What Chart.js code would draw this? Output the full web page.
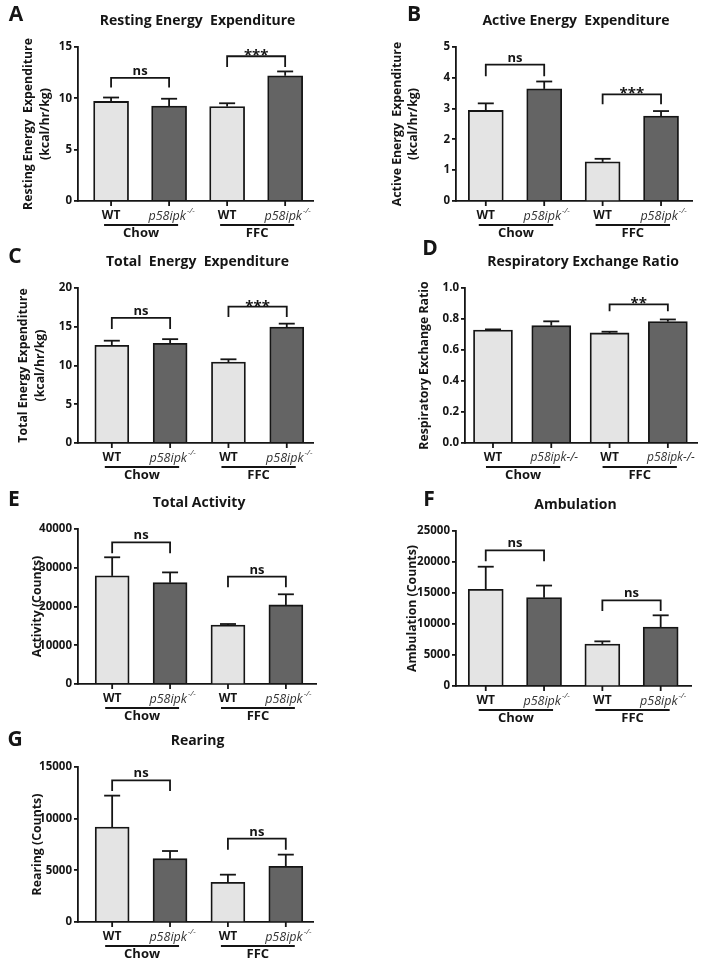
<!DOCTYPE html>
<html>
<head>
<meta charset="utf-8">
<script src="https://cdn.jsdelivr.net/npm/chart.js@4/dist/chart.umd.min.js"></script>
<style>
  body { margin: 0; background: #fff; }
  #fig { position: relative; width: 701px; height: 969px; }
  #fig canvas { position: absolute; }
</style>
</head>
<body>
<div id="fig"></div>
<script>
// bar order: WT Chow, p58ipk-/- Chow, WT FFC, p58ipk-/- FFC
const genotypes = ['WT', 'p58ipk', 'WT', 'p58ipk'];
const diets = ['Chow', 'FFC'];

const restingMean = [9.7, 9.25, 9.2, 12.2];
const restingSem = [0.38, 0.71, 0.32, 0.42];
const activeMean = [2.94, 3.64, 1.27, 2.76];
const activeSem = [0.23, 0.24, 0.1, 0.16];
const totalMean = [12.6, 12.87, 10.45, 14.95];
const totalSem = [0.6, 0.53, 0.35, 0.45];
const rerMean = [0.729, 0.757, 0.71, 0.783];
const rerSem = [0.004, 0.028, 0.008, 0.014];
const activityMean = [27900, 26150, 15230, 20400];
const activitySem = [4800, 2650, 250, 2750];
const ambulationMean = [15590, 14250, 6770, 9520];
const ambulationSem = [3650, 1950, 430, 1880];
const rearingMean = [9190, 6130, 3840, 5390];
const rearingSem = [3040, 740, 740, 1130];

// significance brackets: bars a-b, top of bracket and end of legs (data units)
const restingSig = [{ a: 0, b: 1, top: 12.0, leg: 11.05, text: 'ns' }, { a: 2, b: 3, top: 14.1, leg: 13.05, text: '***' }];
const activeSig = [{ a: 0, b: 1, top: 4.43, leg: 4.05, text: 'ns' }, { a: 2, b: 3, top: 3.46, leg: 3.14, text: '***' }];
const totalSig = [{ a: 0, b: 1, top: 16.15, leg: 14.7, text: 'ns' }, { a: 2, b: 3, top: 17.6, leg: 16.25, text: '***' }];
const rerSig = [{ a: 2, b: 3, top: 0.895, leg: 0.85, text: '**' }];
const activitySig = [{ a: 0, b: 1, top: 36560, leg: 33720, text: 'ns' }, { a: 2, b: 3, top: 27700, leg: 24950, text: 'ns' }];
const ambulationSig = [{ a: 0, b: 1, top: 21880, leg: 20110, text: 'ns' }, { a: 2, b: 3, top: 13820, leg: 12100, text: 'ns' }];
const rearingSig = [{ a: 0, b: 1, top: 13710, leg: 12680, text: 'ns' }, { a: 2, b: 3, top: 8060, leg: 7000, text: 'ns' }];

const barColors = ['#e4e4e4', '#646464', '#e4e4e4', '#646464'];
const INK = '#151515';
const FONT = "'Open Sans', sans-serif";
Chart.defaults.font.family = FONT;

const panels = [
  { letter: 'A', lp: [16, 15], title: 'Resting Energy  Expenditure', ytitle: ['Resting Energy  Expenditure', '(kcal/hr/kg)'], yt: [-50, -33],
    mean: restingMean, sem: restingSem, sig: restingSig, yMax: 15, step: 5,
    box: [0, 0, 350, 242], area: [78, 47, 313, 201], xr: [-0.57, 3.48], barW: 35 },
  { letter: 'B', lp: [414, 15], title: 'Active Energy  Expenditure', ytitle: ['Active Energy  Expenditure', '(kcal/hr/kg)'], yt: [-59, -43],
    mean: activeMean, sem: activeSem, sig: activeSig, yMax: 5, step: 1,
    box: [350, 0, 351, 242], area: [456, 47, 692, 201], xr: [-0.51, 3.53], barW: 35 },
  { letter: 'C', lp: [15, 257], title: 'Total  Energy  Expenditure', ytitle: ['Total Energy Expenditure', '(kcal/hr/kg)'], yt: [-55, -38],
    mean: totalMean, sem: totalSem, sig: totalSig, yMax: 20, step: 5,
    box: [0, 236, 350, 246], area: [78, 288, 313, 443], xr: [-0.58, 3.45], barW: 34 },
  { letter: 'D', lp: [430, 249], title: 'Respiratory Exchange Ratio', ytitle: ['Respiratory Exchange Ratio'], yt: [-41],
    mean: rerMean, sem: rerSem, sig: rerSig, yMax: 1, step: 0.2, fmt: v => v.toFixed(1), plainKo: true,
    box: [350, 234, 351, 248], area: [465, 288, 697, 443], xr: [-0.48, 3.5], barW: 39 },
  { letter: 'E', lp: [14, 500], title: 'Total Activity', ytitle: ['Activity (Counts)'], yt: [-41],
    mean: activityMean, sem: activitySem, sig: activitySig, yMax: 40000, step: 10000,
    box: [0, 482, 350, 240], area: [78, 529, 316, 684], xr: [-0.59, 3.52], barW: 34 },
  { letter: 'F', lp: [429, 500], title: 'Ambulation', ytitle: ['Ambulation (Counts)'], yt: [-44],
    mean: ambulationMean, sem: ambulationSem, sig: ambulationSig, yMax: 25000, step: 5000,
    box: [350, 482, 351, 240], area: [456, 531, 691, 686], xr: [-0.51, 3.52], barW: 35 },
  { letter: 'G', lp: [15, 740], title: 'Rearing', ytitle: ['Rearing (Counts)'], yt: [-41],
    mean: rearingMean, sem: rearingSem, sig: rearingSig, yMax: 15000, step: 5000,
    box: [0, 722, 350, 247], area: [78, 767, 313, 922], xr: [-0.59, 3.47], barW: 34 }
];

function line(ctx, pts) {
  ctx.beginPath();
  ctx.moveTo(pts[0][0], pts[0][1]);
  for (let i = 1; i < pts.length; i++) ctx.lineTo(pts[i][0], pts[i][1]);
  ctx.stroke();
}

function drawAnnot(chart, p) {
  const ctx = chart.ctx;
  const xs = chart.scales.x, ys = chart.scales.y, ca = chart.chartArea;
  const [bx, by] = p.box;
  ctx.save();
  ctx.strokeStyle = INK;
  ctx.fillStyle = INK;
  ctx.lineWidth = 1.8;
  ctx.lineCap = 'butt';

  // error bars (upper only)
  p.mean.forEach((m, i) => {
    const x = xs.getPixelForValue(i);
    const y0 = ys.getPixelForValue(m), y1 = ys.getPixelForValue(m + p.sem[i]);
    line(ctx, [[x, y0], [x, y1]]);
    line(ctx, [[x - 8, y1], [x + 8, y1]]);
  });

  // x tick marks
  p.mean.forEach((m, i) => {
    const x = xs.getPixelForValue(i);
    line(ctx, [[x, ca.bottom], [x, ca.bottom + 5]]);
  });

  // brackets
  p.sig.forEach(s => {
    const x0 = xs.getPixelForValue(s.a), x1 = xs.getPixelForValue(s.b);
    const yt = ys.getPixelForValue(s.top), yl = ys.getPixelForValue(s.leg);
    line(ctx, [[x0, yl], [x0, yt], [x1, yt], [x1, yl]]);
    ctx.textAlign = 'center';
    ctx.textBaseline = 'alphabetic';
    if (s.text === 'ns') {
      ctx.font = `bold 13px ${FONT}`;
      ctx.fillText(s.text, (x0 + x1) / 2, yt - 3);
    } else {
      ctx.font = `bold 15px ${FONT}`;
      ctx.fillText(s.text, (x0 + x1) / 2, yt + 4);
    }
  });

  // panel letter
  ctx.textAlign = 'center';
  ctx.textBaseline = 'middle';
  ctx.font = `bold 21px ${FONT}`;
  ctx.fillText(p.letter, p.lp[0] - bx, p.lp[1] - by);

  // title
  ctx.font = `bold 14px ${FONT}`;
  ctx.fillText(p.title, (ca.left + ca.right) / 2 + 2, ca.top - 26);

  // y title
  ctx.font = `bold 12.3px ${FONT}`;
  p.ytitle.forEach((t, k) => {
    ctx.save();
    ctx.translate(ca.left + p.yt[k], (ca.top + ca.bottom) / 2);
    ctx.rotate(-Math.PI / 2);
    ctx.fillText(t, 0, 0);
    ctx.restore();
  });

  // genotype labels
  const ly = ca.bottom + 15;
  genotypes.forEach((g, i) => {
    const x = xs.getPixelForValue(i);
    if (g === 'WT') {
      ctx.font = `bold 12px ${FONT}`;
      ctx.fillStyle = INK;
      ctx.textAlign = 'center';
      ctx.fillText(g, x, ly);
    } else if (p.plainKo) {
      ctx.font = `italic 12px ${FONT}`;
      ctx.fillStyle = '#333';
      ctx.textAlign = 'center';
      ctx.fillText(g + '-/-', x + 3, ly);
    } else {
      ctx.font = `italic 12.5px ${FONT}`;
      const w1 = ctx.measureText(g).width;
      ctx.font = `italic 8px ${FONT}`;
      const w2 = ctx.measureText('-/-').width;
      const x0 = x + 2 - (w1 + w2) / 2;
      ctx.fillStyle = '#333';
      ctx.textAlign = 'left';
      ctx.font = `italic 12.5px ${FONT}`;
      ctx.fillText(g, x0, ly);
      ctx.font = `italic 8px ${FONT}`;
      ctx.fillText('-/-', x0 + w1 + 1, ly - 5);
    }
  });

  // diet groups
  ctx.fillStyle = INK;
  ctx.textAlign = 'center';
  diets.forEach((d, k) => {
    const xa = xs.getPixelForValue(2 * k) - 7, xb = xs.getPixelForValue(2 * k + 1) + 9;
    const uy = ca.bottom + 24;
    line(ctx, [[xa, uy], [xb, uy]]);
    ctx.font = `bold 13px ${FONT}`;
    ctx.fillText(d, (xa + xb) / 2, ca.bottom + 32);
  });
  ctx.restore();
}

function makePanel(p) {
  const [bx, by, bw, bh] = p.box;
  const [l, t, r, b] = p.area;
  const cv = document.createElement('canvas');
  cv.width = bw; cv.height = bh;
  cv.style.left = bx + 'px';
  cv.style.top = by + 'px';
  document.getElementById('fig').appendChild(cv);

  new Chart(cv, {
    type: 'bar',
    data: {
      datasets: [{
        data: p.mean.map((v, i) => ({ x: i, y: v })),
        backgroundColor: barColors,
        borderColor: INK,
        borderWidth: 1.8,
        barThickness: p.barW
      }]
    },
    options: {
      responsive: false,
      animation: false,
      events: [],
      layout: { padding: { top: t - by, right: bx + bw - r, left: 0, bottom: 0 } },
      plugins: { legend: { display: false }, tooltip: { enabled: false } },
      scales: {
        x: {
          type: 'linear', min: p.xr[0], max: p.xr[1], offset: false,
          grid: { display: false },
          ticks: { display: false },
          border: { color: INK, width: 1.8 },
          afterFit: s => { s.height = by + bh - b; }
        },
        y: {
          min: 0, max: p.yMax,
          ticks: {
            stepSize: p.step, color: INK, padding: 2,
            font: { family: FONT, weight: 'bold', size: 11.5 },
            callback: p.fmt || (v => String(v))
          },
          grid: { drawOnChartArea: false, tickLength: 4, color: INK, lineWidth: 1.8 },
          border: { color: INK, width: 1.8 },
          afterFit: s => { s.width = l - bx; }
        }
      }
    },
    plugins: [{ id: 'annot', afterDraw: chart => drawAnnot(chart, p) }]
  });
}

panels.forEach(makePanel);
</script>
</body>
</html>
